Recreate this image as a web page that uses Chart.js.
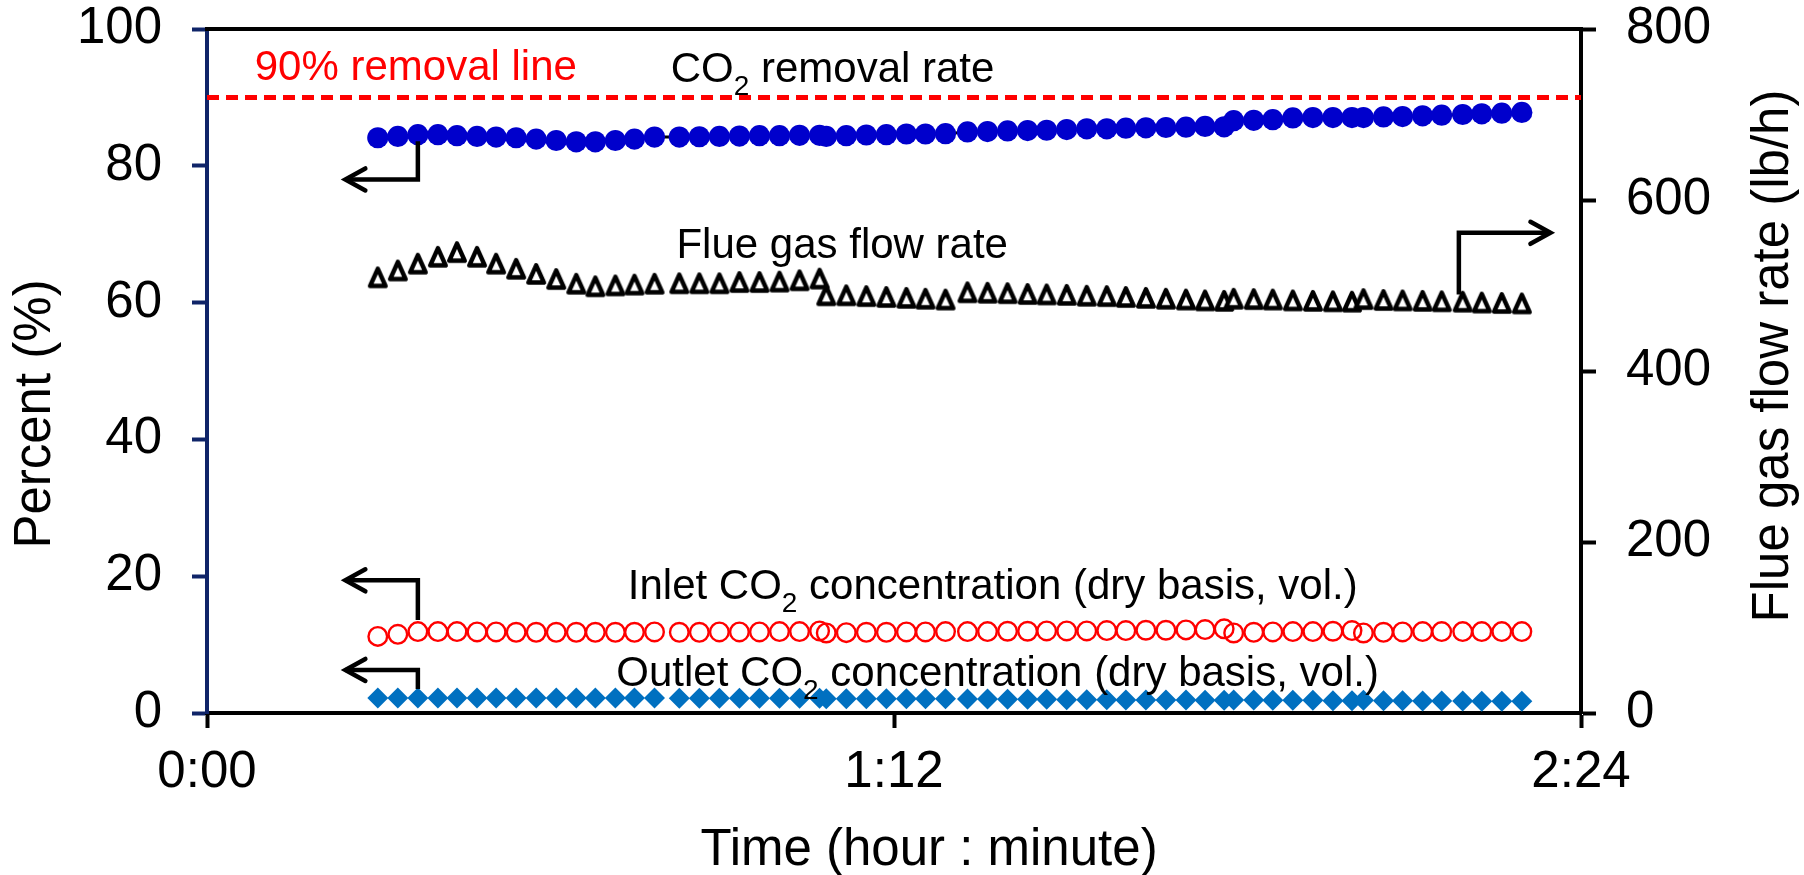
<!DOCTYPE html>
<html>
<head>
<meta charset="utf-8">
<script src="https://cdn.jsdelivr.net/npm/chart.js@4.4.1/dist/chart.umd.min.js"></script>
<style>
  html, body { margin: 0; padding: 0; background: #fff; }
  #wrap { width: 1804px; height: 875px; }
</style>
</head>
<body>
<div id="wrap"><canvas id="chart" width="1804" height="875"></canvas></div>
<script>
/* ============================================================
   DATA — elapsed time in minutes
============================================================ */
const timeMin = [
  17.9, 20.0, 22.1, 24.2, 26.2, 28.3, 30.3, 32.4, 34.5, 36.6, 38.7, 40.7, 42.8, 44.8, 46.9,
  49.5, 51.6, 53.7, 55.8, 57.9, 60.0, 62.1, 64.2,
  64.9, 67.0, 69.1, 71.2, 73.3, 75.3, 77.4,
  79.7, 81.8, 83.9, 86.0, 88.0, 90.1, 92.2, 94.3, 96.3, 98.4, 100.5, 102.6, 104.6, 106.6,
  107.6, 109.7, 111.7, 113.8, 115.9, 118.0, 120.0,
  121.2, 123.3, 125.3, 127.4, 129.4, 131.6, 133.6, 135.7, 137.8
];

// CO2 removal rate (%)
const removalRate = [
  84.1, 84.3, 84.55, 84.55, 84.4, 84.3, 84.2, 84.1, 83.9, 83.7, 83.5, 83.5, 83.7, 83.9, 84.2,
  84.2, 84.25, 84.3, 84.35, 84.4, 84.4, 84.45, 84.45,
  84.3, 84.4, 84.5, 84.55, 84.65, 84.65, 84.7,
  84.95, 85.0, 85.1, 85.15, 85.2, 85.3, 85.4, 85.4, 85.5, 85.55, 85.6, 85.65, 85.75, 85.7,
  86.6, 86.65, 86.75, 87.0, 87.05, 87.05, 87.05,
  87.05, 87.15, 87.2, 87.3, 87.4, 87.5, 87.6, 87.7, 87.8
];

// Flue gas flow rate (lb/h) — right axis
const flueGasFlow = [
  509.5, 517.5, 525.5, 533.5, 539, 533.5, 525.5, 519.5, 513.5, 507.5, 502, 499, 500, 501, 502,
  502.5, 502.5, 502.5, 504, 504, 504.5, 506, 508,
  488.5, 488.5, 487.5, 486.5, 485.5, 484.5, 483.5,
  492, 491.5, 491, 490, 489.5, 489, 488, 487.5, 486.5, 485.5, 484.5, 483.5, 482.5, 482,
  484.5, 484, 483.5, 482.5, 482, 481.5, 481,
  484, 483, 482.5, 482, 481.5, 481, 480, 479.5, 479
];

// Inlet CO2 concentration (%)
const inletCO2 = [
  11.2, 11.5, 11.9, 11.9, 11.9, 11.85, 11.85, 11.8, 11.8, 11.8, 11.8, 11.8, 11.8, 11.8, 11.85,
  11.8, 11.8, 11.85, 11.85, 11.85, 11.9, 11.9, 12.0,
  11.7, 11.75, 11.8, 11.8, 11.85, 11.85, 11.9,
  11.9, 11.9, 11.95, 11.95, 12.0, 12.0, 12.0, 12.05, 12.05, 12.1, 12.1, 12.15, 12.2, 12.3,
  11.7, 11.8, 11.85, 11.9, 11.9, 11.95, 12.05,
  11.7, 11.8, 11.85, 11.9, 11.9, 11.9, 11.9, 11.9, 11.9
];

// Outlet CO2 concentration (%)
const outletCO2 = [
  2.2, 2.2, 2.2, 2.2, 2.2, 2.2, 2.2, 2.2, 2.2, 2.2, 2.2, 2.2, 2.2, 2.2, 2.2,
  2.15, 2.15, 2.15, 2.15, 2.15, 2.15, 2.15, 2.15,
  2.1, 2.1, 2.1, 2.1, 2.1, 2.1, 2.1,
  2.05, 2.05, 2.0, 2.0, 2.0, 1.95, 1.95, 1.95, 1.9, 1.9, 1.9, 1.9, 1.85, 1.85,
  1.9, 1.9, 1.85, 1.85, 1.85, 1.8, 1.8,
  1.85, 1.8, 1.8, 1.75, 1.75, 1.75, 1.7, 1.7, 1.7
];

// 90 % removal target
const targetTime = [0, 144];
const targetRemoval = [90, 90];

// ticks
const xTicks = [0, 72, 144];
const yTicks = [0, 20, 40, 60, 80, 100];
const y2Ticks = [0, 200, 400, 600, 800];

/* ============================================================
   ANNOTATIONS (time in min, value in %)
============================================================ */
const notes = [
  { parts: ['90% removal line'], t: 5.0, v: 92.6, color: '#FF0000' },
  { parts: ['CO', { sub: '2' }, ' removal rate'], t: 48.6, v: 92.3, color: '#000' },
  { parts: ['Flue gas flow rate'], t: 49.2, v: 66.5, color: '#000' },
  { parts: ['Inlet CO', { sub: '2' }, ' concentration (dry basis, vol.)'], t: 44.1, v: 16.7, color: '#000' },
  { parts: ['Outlet CO', { sub: '2' }, ' concentration (dry basis, vol.)'], t: 42.9, v: 3.9, color: '#000' }
];

const arrows = [
  { path: [[22.1, 83.6], [22.1, 78.0], [14.5, 78.0]], dir: -1 },
  { path: [[22.1, 13.6], [22.1, 19.4], [14.5, 19.4]], dir: -1 },
  { path: [[22.1, 3.5], [22.1, 6.3], [14.5, 6.3]], dir: -1 },
  { path: [[131.2, 61.2], [131.2, 70.2], [140.8, 70.2]], dir: 1 }
];

const FONT = "'Liberation Sans', Arial, sans-serif";
const NAVY = '#0F2468';

function toPoints(xs, ys) {
  return xs.map((x, i) => ({ x: x, y: ys[i] }));
}

function fmtTime(v) {
  const h = Math.floor(v / 60);
  const m = Math.round(v - h * 60);
  return h + ':' + String(m).padStart(2, '0');
}

/* Excel-like open triangle marker (a bit taller than wide, thick outline) */
function triangleMarker() {
  const c = document.createElement('canvas');
  c.width = 26; c.height = 26;
  const g = c.getContext('2d');
  g.beginPath();
  g.moveTo(13, 4.4);
  g.lineTo(20.75, 21.6);
  g.lineTo(5.25, 21.6);
  g.closePath();
  g.fillStyle = '#fff';
  g.fill();
  g.lineWidth = 4.5;
  g.lineJoin = 'round';
  g.strokeStyle = '#000';
  g.stroke();
  return c;
}

/* ============================================================
   PLUGIN — top border, arrows, texts, axis titles
============================================================ */
const decorations = {
  id: 'decorations',
  afterDraw(chart) {
    const { ctx, chartArea: ca, scales } = chart;
    const px = t => scales.x.getPixelForValue(t);
    const py = v => scales.y.getPixelForValue(v);

    ctx.save();

    // top frame line
    ctx.strokeStyle = '#000';
    ctx.lineWidth = 4;
    ctx.beginPath();
    ctx.moveTo(ca.left - 2, ca.top);
    ctx.lineTo(ca.right + 2, ca.top);
    ctx.stroke();

    // arrows
    ctx.lineWidth = 4.5;
    ctx.lineJoin = 'miter';
    arrows.forEach(a => {
      ctx.beginPath();
      a.path.forEach((p, i) => {
        const X = px(p[0]), Y = py(p[1]);
        if (i === 0) ctx.moveTo(X, Y); else ctx.lineTo(X, Y);
      });
      ctx.stroke();
      const last = a.path[a.path.length - 1];
      const tx = px(last[0]), ty = py(last[1]);
      ctx.lineCap = 'round';
      ctx.beginPath();
      ctx.moveTo(tx - a.dir * 20, ty - 11);
      ctx.lineTo(tx, ty);
      ctx.lineTo(tx - a.dir * 20, ty + 11);
      ctx.stroke();
      ctx.lineCap = 'butt';
    });

    // texts with subscripts
    ctx.textBaseline = 'alphabetic';
    ctx.textAlign = 'left';
    notes.forEach(n => {
      let X = px(n.t);
      const Y = py(n.v);
      ctx.fillStyle = n.color;
      n.parts.forEach(p => {
        if (typeof p === 'string') {
          ctx.font = '42px ' + FONT;
          ctx.fillText(p, X, Y);
          X += ctx.measureText(p).width;
        } else {
          ctx.font = '28px ' + FONT;
          ctx.fillText(p.sub, X, Y + 13);
          X += ctx.measureText(p.sub).width;
        }
      });
    });

    // axis titles
    ctx.fillStyle = '#000';
    ctx.font = '51px ' + FONT;
    ctx.textAlign = 'center';
    ctx.textBaseline = 'alphabetic';
    ctx.fillText('Time (hour : minute)', 929, 865);

    ctx.textBaseline = 'middle';
    ctx.save();
    ctx.translate(36, 414);
    ctx.rotate(-Math.PI / 2);
    ctx.fillText('Percent (%)', 0, 0);
    ctx.restore();

    ctx.save();
    ctx.translate(1774, 356);
    ctx.rotate(-Math.PI / 2);
    ctx.fillText('Flue gas flow rate (lb/h)', 0, 0);
    ctx.restore();

    ctx.restore();
  }
};

/* ============================================================
   CHART
============================================================ */
const tickFont = { family: FONT, size: 51 };

new Chart(document.getElementById('chart'), {
  type: 'scatter',
  data: {
    datasets: [
      {
        label: 'CO2 removal rate',
        data: toPoints(timeMin, removalRate),
        yAxisID: 'y',
        showLine: true,
        borderColor: '#000',
        borderWidth: 3,
        tension: 0,
        pointStyle: 'circle',
        pointRadius: 10.6,
        pointBackgroundColor: '#0000CC',
        pointBorderColor: '#0000CC',
        pointBorderWidth: 0
      },
      {
        label: 'Flue gas flow rate',
        data: toPoints(timeMin, flueGasFlow),
        yAxisID: 'y2',
        showLine: false,
        pointStyle: triangleMarker(),
        pointRadius: 11
      },
      {
        label: 'Inlet CO2',
        data: toPoints(timeMin, inletCO2),
        yAxisID: 'y',
        showLine: false,
        pointStyle: 'circle',
        pointRadius: 9.3,
        pointBackgroundColor: 'rgba(0,0,0,0)',
        pointBorderColor: '#FF0000',
        pointBorderWidth: 2.4
      },
      {
        label: 'Outlet CO2',
        data: toPoints(timeMin, outletCO2),
        yAxisID: 'y',
        showLine: false,
        pointStyle: 'rectRot',
        pointRadius: 10.5,
        pointBackgroundColor: '#0070C0',
        pointBorderColor: '#0070C0',
        pointBorderWidth: 0
      },
      {
        label: '90% removal line',
        data: toPoints(targetTime, targetRemoval),
        yAxisID: 'y',
        showLine: true,
        borderColor: '#FF0000',
        borderWidth: 5,
        borderDash: [12, 7],
        pointRadius: 0
      }
    ]
  },
  options: {
    responsive: false,
    animation: false,
    devicePixelRatio: 1,
    layout: { padding: { top: 29, left: 0, right: 0, bottom: 0 } },
    plugins: {
      legend: { display: false },
      tooltip: { enabled: false }
    },
    scales: {
      x: {
        type: 'linear',
        position: 'bottom',
        min: 0, max: 144,
        afterBuildTicks: s => { s.ticks = xTicks.map(v => ({ value: v })); },
        afterFit: s => { s.height = 875 - 713; s.paddingLeft = 0; s.paddingRight = 0; },
        grid: { drawOnChartArea: false, drawTicks: true, tickLength: 15, tickWidth: 4, tickColor: '#000' },
        border: { display: true, color: '#000', width: 4 },
        ticks: {
          font: tickFont, color: '#000', padding: 14,
          maxRotation: 0, autoSkip: false,
          callback: v => fmtTime(v)
        }
      },
      y: {
        position: 'left',
        min: 0, max: 100,
        afterBuildTicks: s => { s.ticks = yTicks.map(v => ({ value: v })); },
        afterFit: s => { s.width = 207; s.paddingTop = 0; s.paddingBottom = 0; },
        grid: { drawOnChartArea: false, drawTicks: true, tickLength: 15, tickWidth: 4, tickColor: NAVY },
        border: { display: true, color: NAVY, width: 4 },
        ticks: { font: tickFont, color: '#000', padding: 30 }
      },
      y2: {
        position: 'right',
        min: 0, max: 800,
        afterBuildTicks: s => { s.ticks = y2Ticks.map(v => ({ value: v })); },
        afterFit: s => { s.width = 1804 - 1581; s.paddingTop = 0; s.paddingBottom = 0; },
        grid: { drawOnChartArea: false, drawTicks: true, tickLength: 15, tickWidth: 4, tickColor: '#000' },
        border: { display: true, color: '#000', width: 4 },
        ticks: { font: tickFont, color: '#000', padding: 30 }
      }
    }
  },
  plugins: [decorations]
});
</script>
</body>
</html>
